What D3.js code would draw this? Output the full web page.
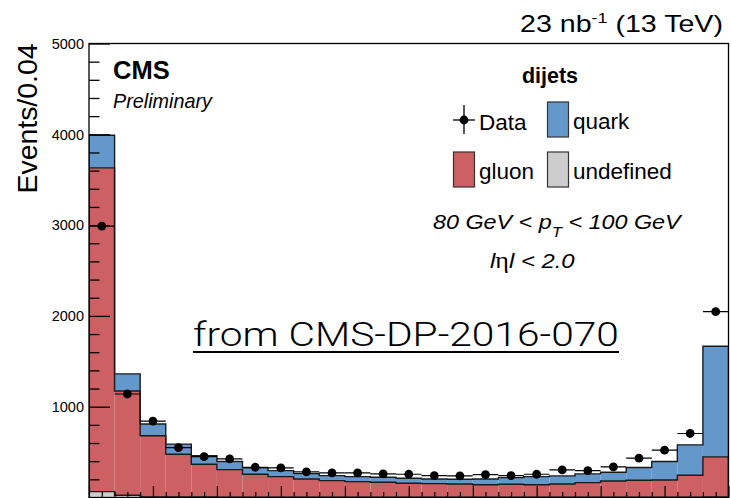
<!DOCTYPE html>
<html>
<head>
<meta charset="utf-8">
<script src="https://cdn.jsdelivr.net/npm/d3@7"></script>
<style>
  html, body { margin: 0; padding: 0; background: #fff; }
  svg { display: block; }
  text { font-family: "Liberation Sans", Arial, Helvetica, sans-serif; fill: #000; }
</style>
</head>
<body>
<script>
// Jet classification variable, 25 bins of width 0.04 on [0, 1]
const binEdges = d3.range(0, 26).map(i => i * 0.04);

// Stacked simulation components (events per bin)
const undefinedVals = [65, 25, 6, 5, 5, 4, 4, 4, 4, 4, 4, 4, 4, 4, 4, 4, 4, 4, 4, 4, 4, 4, 4, 4, 6];
const gluonVals = [3565, 1148, 674, 472, 362, 303, 252, 226, 200, 182, 171, 164, 153, 149, 145, 136, 142, 137, 145, 160, 178, 186, 189, 241, 441];
const quarkVals = [359, 188, 129, 111, 92, 89, 72, 66, 59, 55, 55, 55, 55, 51, 52, 64, 73, 89, 89, 96, 96, 140, 203, 335, 1219];

// Observed data per bin
const dataVals = [2989, 1140, 842, 550, 451, 425, 333, 326, 282, 271, 271, 260, 256, 241, 238, 252, 241, 256, 304, 296, 337, 433, 521, 705, 2046];

const yTicksMajor = [1000, 2000, 3000, 4000, 5000];
const yTickLabels = ["1000", "2000", "3000", "4000", "5000"];

const seriesNames = ["undefined", "gluon", "quark"];
const seriesColors = { undefined: "#cdcdcd", gluon: "#cc6062", quark: "#6498cb" };

const W = 731, H = 498;
const frame = { left: 89, right: 728.5, top: 43.5, bottom: 497.5 };

const svg = d3.select("body").append("svg").attr("width", W).attr("height", H);

const x = d3.scaleLinear().domain([0, 1]).range([frame.left, frame.right]);
const y = d3.scaleLinear().domain([0, 5000]).range([frame.bottom, frame.top]);

// Stretch a text element horizontally so it spans [left, left + width]
function fitWidth(sel, left, width) {
  const b = sel.node().getBBox();
  const s = width / b.width;
  sel.attr("transform", `translate(${left},0) scale(${s},1) translate(${-b.x},0)`);
}

// Build stacked table
const table = binEdges.slice(0, -1).map((lo, i) => ({
  lo, hi: binEdges[i + 1],
  undefined: undefinedVals[i], gluon: gluonVals[i], quark: quarkVals[i]
}));
const stacked = d3.stack().keys(seriesNames)(table);

svg.append("clipPath").attr("id", "clip")
  .append("rect").attr("x", frame.left).attr("y", frame.top)
  .attr("width", frame.right - frame.left).attr("height", frame.bottom - frame.top);

const histG = svg.append("g").attr("clip-path", "url(#clip)");

// Filled bins for each stacked component
stacked.forEach(layer => {
  histG.append("g").selectAll("rect").data(layer).join("rect")
    .attr("x", d => x(d.data.lo))
    .attr("width", d => x(d.data.hi) - x(d.data.lo))
    .attr("y", d => y(d[1]))
    .attr("height", d => y(d[0]) - y(d[1]))
    .attr("fill", seriesColors[layer.key]);
});

// Step outlines along the top of each component
const stepLine = d3.line().x(d => d[0]).y(d => d[1]);
stacked.forEach(layer => {
  const pts = [];
  layer.forEach(d => {
    pts.push([x(d.data.lo), y(d[1])]);
    pts.push([x(d.data.hi), y(d[1])]);
  });
  pts.unshift([x(0), y(0)]);
  pts.push([x(1), y(0)]);
  histG.append("path").attr("d", stepLine(pts))
    .attr("fill", "none").attr("stroke", "#1a1a1a").attr("stroke-width", 1.4);
});

// Data points with bin-width horizontal bars
const dataG = histG.append("g");
dataVals.forEach((v, i) => {
  const lo = binEdges[i], hi = binEdges[i + 1];
  dataG.append("line")
    .attr("x1", x(lo)).attr("x2", x(hi))
    .attr("y1", y(v)).attr("y2", y(v))
    .attr("stroke", "#000").attr("stroke-width", 1.2);
  dataG.append("circle")
    .attr("cx", x((lo + hi) / 2)).attr("cy", y(v)).attr("r", 4.4)
    .attr("fill", "#000");
});

// Frame
svg.append("rect")
  .attr("x", frame.left).attr("y", frame.top)
  .attr("width", frame.right - frame.left).attr("height", frame.bottom - frame.top)
  .attr("fill", "none").attr("stroke", "#000").attr("stroke-width", 1.3);

// Y axis: major ticks with labels, minor ticks every 200
const yAxis = d3.axisRight(y)
  .tickValues(d3.range(0, 5001, 200))
  .tickSize(0).tickFormat("");
const yAxisG = svg.append("g").attr("transform", `translate(${frame.left},0)`).call(yAxis);
yAxisG.select(".domain").remove();
yAxisG.selectAll(".tick line")
  .attr("x2", d => (d % 1000 === 0 ? 21 : 10.5))
  .attr("stroke", "#000").attr("stroke-width", 1.3);

yTicksMajor.forEach((v, i) => {
  svg.append("text")
    .attr("x", frame.left - 5).attr("y", y(v))
    .attr("dy", "0.36em").attr("text-anchor", "end")
    .style("font-size", "14.5px")
    .text(yTickLabels[i]);
});

// X axis ticks along the bottom edge
const xAxis = d3.axisTop(x).tickValues(d3.range(0, 51).map(i => i * 0.02)).tickSize(0).tickFormat("");
const xAxisG = svg.append("g").attr("transform", `translate(0,${frame.bottom})`).call(xAxis);
xAxisG.select(".domain").remove();
xAxisG.selectAll(".tick line")
  .attr("y2", (d, i) => (i % 5 === 0 ? -11.5 : -5.5))
  .attr("stroke", "#000").attr("stroke-width", 1.2);

// Y axis title
svg.append("text")
  .attr("transform", `translate(37,${frame.top}) rotate(-90)`)
  .attr("text-anchor", "end")
  .style("font-size", "28px")
  .attr("textLength", 150).attr("lengthAdjust", "spacingAndGlyphs")
  .text("Events/0.04");

// Luminosity / energy label
const lumi = svg.append("text")
  .attr("x", 520).attr("y", 32)
  .style("font-size", "24px");
lumi.append("tspan").text("23 nb");
lumi.append("tspan").attr("dy", -9).style("font-size", "15px").text("-1");
lumi.append("tspan").attr("dy", 9).text(" (13 TeV)");
fitWidth(lumi, 520, 203);

// CMS Preliminary
svg.append("text").attr("x", 113).attr("y", 79)
  .style("font-size", "25.5px").style("font-weight", "bold").text("CMS");
svg.append("text").attr("x", 113).attr("y", 108)
  .style("font-size", "19.8px").style("font-style", "italic").text("Preliminary");

// Legend
svg.append("text").attr("x", 550).attr("y", 83).attr("text-anchor", "middle")
  .style("font-size", "21.5px").style("font-weight", "bold").text("dijets");

const leg = svg.append("g");
// Data entry
leg.append("line").attr("x1", 453).attr("x2", 475).attr("y1", 120).attr("y2", 120)
  .attr("stroke", "#000").attr("stroke-width", 1.3);
leg.append("line").attr("x1", 464).attr("x2", 464).attr("y1", 105).attr("y2", 134)
  .attr("stroke", "#000").attr("stroke-width", 1.3);
leg.append("circle").attr("cx", 464).attr("cy", 120).attr("r", 4.4).attr("fill", "#000");
leg.append("text").attr("x", 479).attr("y", 130).style("font-size", "22.5px").text("Data");

const boxes = [
  { key: "quark", x: 547.5, y: 102, label: "quark" },
  { key: "gluon", x: 453.5, y: 152, label: "gluon" },
  { key: "undefined", x: 547.5, y: 152, label: "undefined" }
];
boxes.forEach(b => {
  leg.append("rect").attr("x", b.x).attr("y", b.y).attr("width", 21).attr("height", 35)
    .attr("fill", seriesColors[b.key]).attr("stroke", "#333").attr("stroke-width", 1.2);
  leg.append("text").attr("x", b.x + 25.5).attr("y", b.y + 27)
    .style("font-size", "22.5px").text(b.label);
});

// Selection labels
const sel = svg.append("text").attr("x", 433).attr("y", 229)
  .style("font-size", "21px").style("font-style", "italic");
sel.append("tspan").text("80 GeV < p");
sel.append("tspan").attr("dy", 8).style("font-size", "15px").text("T");
sel.append("tspan").attr("dy", -8).text(" < 100 GeV");
fitWidth(sel, 433, 250);

const eta = svg.append("text").attr("x", 490).attr("y", 268)
  .style("font-size", "21px").style("font-style", "italic");
eta.append("tspan").text("l");
eta.append("tspan").style("font-family", "'Liberation Serif', 'DejaVu Serif', serif")
  .style("font-style", "normal").style("font-size", "23px").text("\u03b7");
eta.append("tspan").text("l < 2.0");
fitWidth(eta, 490, 85);

// Source note
const src = svg.append("text").attr("x", 193).attr("y", 346)
  .style("font-family", "Roboto, 'Open Sans', sans-serif")
  .style("font-weight", 300)
  .style("font-size", "34px")
  .text("from CMS-DP-2016-070");
fitWidth(src, 193, 426);
svg.append("line").attr("x1", 193).attr("x2", 619)
  .attr("y1", 352).attr("y2", 352)
  .attr("stroke", "#000").attr("stroke-width", 1.8);
</script>
</body>
</html>
